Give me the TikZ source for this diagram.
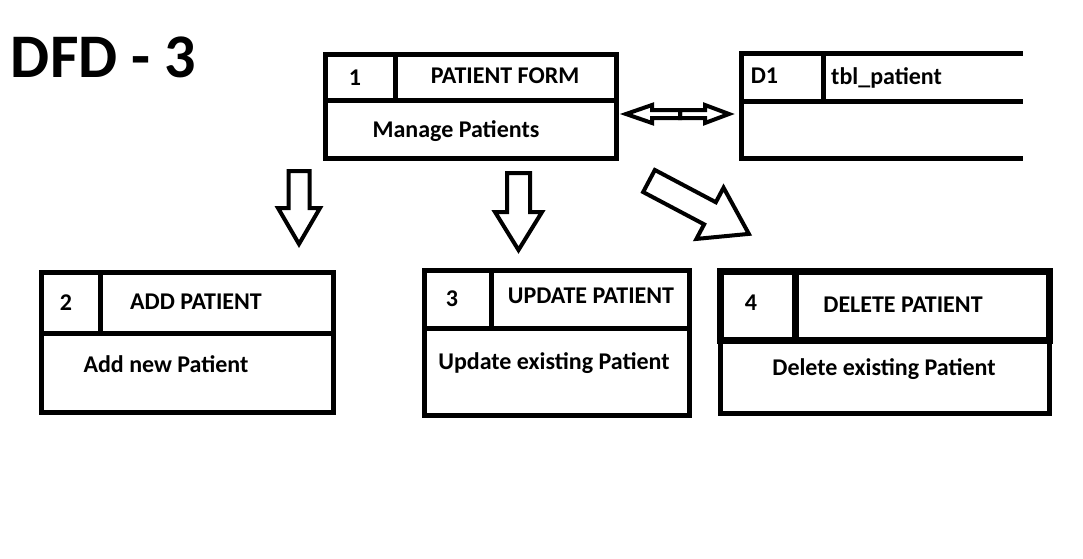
\documentclass[tikz,border=0pt]{standalone}
\usepackage{fontspec}
\setmainfont{Carlito}
\usetikzlibrary{calc}

\newcommand{\fatarrow}[6]{% tail, angle, length, head length, shaft half width, head half width
	\draw[fat_arrow, shift={(#1)}, rotate=#2] (0,-#5) -- ({#3-#4},-#5) -- ({#3-#4},-#6) -- (#3,0)
	-- ({#3-#4},#6) -- ({#3-#4},#5) -- (0,#5) -- cycle;}

\begin{document}
\begin{tikzpicture}[x=1pt, y=-1pt,
	proc_cell/.style={draw, line width=5pt, inner sep=0pt, outer sep=0pt},
	head_cell/.style={proc_cell, line width=7pt},
	store_line/.style={line width=5pt},
	fat_arrow/.style={draw, line width=4pt, line join=miter},
	txt/.style={anchor=base, inner sep=0pt, font=\bfseries\fontsize{24}{28}\selectfont}]
	
	\useasboundingbox (0,0) rectangle (1083,558);
	
	\node[anchor=base, inner sep=0pt, font=\bfseries\fontsize{62}{70}\selectfont] (title) at (103.5,77) {DFD - 3};
	
	% process 1
	\node[proc_cell, minimum width=291pt, minimum height=58pt] (b1) at (470.5,129) {};
	\node[proc_cell, minimum width=70pt, minimum height=46pt] (n1) at (360,77) {};
	\node[proc_cell, minimum width=221pt, minimum height=46pt] (h1) at (505.5,77) {};
	\node[txt] (n1t) at (355,85) {1};
	\node[txt] (h1t) at (505,83) {PATIENT FORM};
	\node[txt] (b1t) at (456,137) {Manage Patients};
	
	% data store
	\node[proc_cell, minimum width=82pt, minimum height=48pt] (d1) at (782,77) {};
	\coordinate (d1top) at (1023,53);
	\coordinate (d1mid) at (1023,101);
	\coordinate (d1bot) at (1023,158);
	\draw[store_line] (d1.north east) -- (d1top);
	\draw[store_line] (d1.south east) -- (d1mid);
	\draw[store_line] (d1.south west) -- (d1.south west |- d1bot) -- (d1bot);
	\node[txt] (d1t) at (764.5,83) {D1};
	\node[txt] (d1n) at (886.5,84) {tbl\_patient};
	
	% process 2
	\node[proc_cell, minimum width=292pt, minimum height=79pt] (b2) at (187,372.5) {};
	\node[proc_cell, minimum width=59pt, minimum height=61pt] (n2) at (70.5,302.5) {};
	\node[proc_cell, minimum width=233pt, minimum height=61pt] (h2) at (216.5,302.5) {};
	\node[txt] (n2t) at (66,310) {2};
	\node[txt] (h2t) at (196,309) {ADD PATIENT};
	\node[txt] (b2t) at (166,372) {Add new Patient};
	
	% process 3
	\node[proc_cell, minimum width=265pt, minimum height=87pt] (b3) at (556.5,371.5) {};
	\node[proc_cell, minimum width=67pt, minimum height=58pt] (n3) at (457.5,299) {};
	\node[proc_cell, minimum width=198pt, minimum height=58pt] (h3) at (590,299) {};
	\node[txt] (n3t) at (452,306) {3};
	\node[txt] (h3t) at (591,303) {UPDATE PATIENT};
	\node[txt] (b3t) at (554,369) {Update existing Patient};
	
	% process 4
	\node[proc_cell, minimum width=329pt, minimum height=73pt] (b4) at (884.5,376.5) {};
	\node[head_cell, minimum width=75pt, minimum height=69pt] (n4) at (757.5,305.5) {};
	\node[head_cell, minimum width=254pt, minimum height=69pt] (h4) at (922,305.5) {};
	\node[txt] (n4t) at (751,310) {4};
	\node[txt] (h4t) at (903,312) {DELETE PATIENT};
	\node[txt] (b4t) at (884,375) {Delete existing Patient};
	
	% flows
	\coordinate (f12) at (299,171);
	\coordinate (f13) at (518.5,173);
	\coordinate (f14) at (649,181);
	\coordinate (fd1) at (680,114);
	\fatarrow{f12}{-90}{73}{36}{10.5}{21}
	\fatarrow{f13}{-90}{77}{38}{11.5}{23.5}
	\fatarrow{f14}{-27.9}{113}{44}{12.5}{29}
	\fatarrow{fd1}{180}{54}{26}{4}{9}
	\fatarrow{fd1}{0}{49}{24}{4}{9}
\end{tikzpicture}
\end{document}
